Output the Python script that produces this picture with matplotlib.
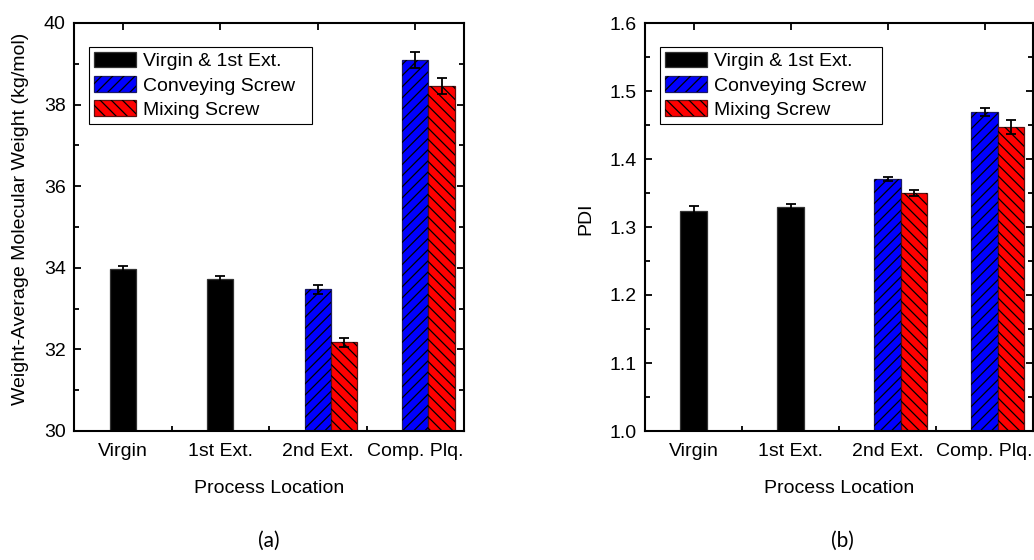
import numpy as np
import matplotlib
matplotlib.use("Agg")
import matplotlib.pyplot as plt
from matplotlib.ticker import MultipleLocator, FixedLocator, FormatStrFormatter

plt.rcParams["font.family"] = ["Liberation Sans", "DejaVu Sans"]
plt.rcParams["font.size"] = 14
plt.rcParams["hatch.linewidth"] = 0.9

# ====== data ======
categories = ["Virgin", "1st Ext.", "2nd Ext.", "Comp. Plq."]
series_names = ["Virgin & 1st Ext.", "Conveying Screw", "Mixing Screw"]

# weight-average molecular weight (kg/mol)
mw_virgin = [33.96, 33.72]
mw_virgin_err = [0.08, 0.08]
mw_conv = [33.47, 39.09]
mw_conv_err = [0.12, 0.19]
mw_mix = [32.17, 38.46]
mw_mix_err = [0.10, 0.19]

# PDI
pdi_virgin = [1.324, 1.330]
pdi_virgin_err = [0.007, 0.004]
pdi_conv = [1.371, 1.469]
pdi_conv_err = [0.003, 0.006]
pdi_mix = [1.350, 1.447]
pdi_mix_err = [0.005, 0.010]

BAR_W = 0.27


def hatched_bar(ax, x, y, err, face, edge, hatch):
    err_kw = dict(ecolor="black", elinewidth=1.3, capsize=3.5, capthick=1.3,
                  zorder=4)
    base = ax.bar(x, y, BAR_W, color=face, edgecolor=edge, linewidth=0.9,
                  zorder=2)
    # hatch drawn in black on top of the coloured bar
    top = ax.bar(x, y, BAR_W, facecolor="none", edgecolor="black",
                 hatch=hatch, linewidth=0, zorder=3)
    ax.errorbar(x, y, yerr=err, fmt="none", **err_kw)
    return (base, top)


def draw_panel(ax, virgin, virgin_err, conv, conv_err, mix, mix_err,
               ylim, major, minor, ylabel):
    x = np.arange(len(categories))
    handles = [
        hatched_bar(ax, x[:2], virgin, virgin_err, "black", "#333333", None),
        hatched_bar(ax, x[2:], conv, conv_err, "#0000ff", "#1a1a66", "///"),
        hatched_bar(ax, x[2:] + BAR_W, mix, mix_err, "#ff0000", "#5a1010",
                    "\\\\\\"),
    ]

    ax.set_xlim(-0.5, 3.5)
    ax.set_ylim(*ylim)
    ax.set_xticks(x)
    ax.set_xticklabels(categories)
    ax.xaxis.set_minor_locator(FixedLocator([0.5, 1.5, 2.5]))
    ax.yaxis.set_major_locator(MultipleLocator(major))
    ax.yaxis.set_minor_locator(MultipleLocator(minor))

    for s in ax.spines.values():
        s.set_linewidth(1.5)
        s.set_zorder(5)
    ax.tick_params(which="both", direction="in", top=True, right=True,
                   width=1.3)
    ax.tick_params(which="major", length=5, pad=6)
    ax.tick_params(which="minor", length=3.5)
    ax.tick_params(axis="x", which="major", pad=9)
    ax.tick_params(axis="x", which="minor", top=False)

    ax.set_ylabel(ylabel, labelpad=11)
    ax.yaxis.label.set_y(0.52)
    ax.set_xlabel("Process Location", labelpad=14)

    leg = ax.legend(handles, series_names, loc="upper left",
                    bbox_to_anchor=(15 / 390, 0.5, 223 / 390, 1 - 24 / 408 - 0.5),
                    mode="expand", fancybox=False, framealpha=1,
                    edgecolor="black", handlelength=2.15, handleheight=0.85,
                    handletextpad=0.4, labelspacing=0.3, borderpad=0.25,
                    borderaxespad=0)
    leg.get_frame().set_linewidth(0.8)
    leg.set_zorder(6)


fig = plt.figure(figsize=(10.34, 5.6), dpi=100)
ax1 = fig.add_axes([74 / 1034, 129 / 560, 390 / 1034, 408 / 560])
ax2 = fig.add_axes([645 / 1034, 129 / 560, 388 / 1034, 408 / 560])

draw_panel(ax1, mw_virgin, mw_virgin_err, mw_conv, mw_conv_err,
           mw_mix, mw_mix_err, (30, 40), 2, 1,
           "Weight-Average Molecular Weight (kg/mol)")
draw_panel(ax2, pdi_virgin, pdi_virgin_err, pdi_conv, pdi_conv_err,
           pdi_mix, pdi_mix_err, (1.0, 1.6), 0.1, 0.05, "PDI")
ax2.yaxis.set_major_formatter(FormatStrFormatter("%.1f"))

fig.text(269 / 1034, 1 - 541 / 560, "(a)", ha="center", va="center",
         family=["Lato", "DejaVu Sans"], fontsize=15)
fig.text(842 / 1034, 1 - 541 / 560, "(b)", ha="center", va="center",
         family=["Lato", "DejaVu Sans"], fontsize=15)

fig.savefig("out.png", dpi=100)
